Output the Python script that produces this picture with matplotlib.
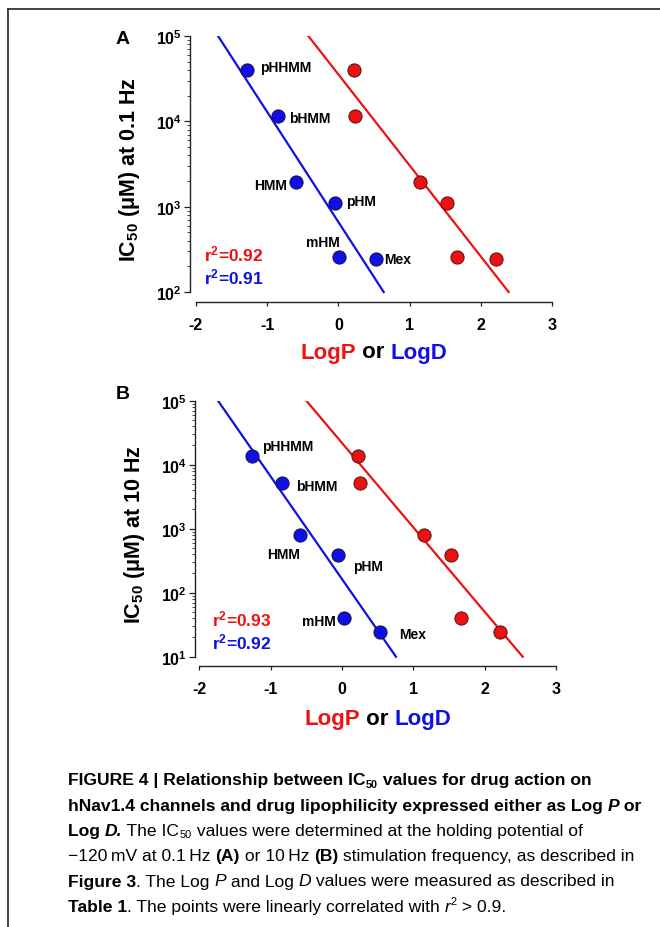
import numpy as np
import matplotlib
matplotlib.use('Agg')
import matplotlib.pyplot as plt
from matplotlib import font_manager
from matplotlib.lines import Line2D
from matplotlib.ticker import FuncFormatter, NullFormatter, FixedLocator

# ── data ──────────────────────────────────────────────────────────────────────
drugs = ['pHHMM', 'bHMM', 'HMM', 'pHM', 'mHM', 'Mex']

logd_a = [-1.284, -0.848, -0.591, -0.052, 0.013, 0.523]
logp_a = [0.224, 0.238, 1.141, 1.525, 1.666, 2.209]
ic50_a = [40100, 11600, 1970, 1090, 259, 245]       # uM at 0.1 Hz

logd_b = [-1.266, -0.846, -0.589, -0.051, 0.023, 0.537]
logp_b = [0.231, 0.248, 1.145, 1.528, 1.673, 2.215]
ic50_b = [13650, 5100, 787, 388, 40.6, 24.3]        # uM at 10 Hz

# regression lines (ends)
fit_a_logd = [-1.69, 0.636]
fit_a_logp = [-0.422, 2.391]
fit_a_ic50 = [1e5, 1e2]
fit_b_logd = [-1.738, 0.757]
fit_b_logp = [-0.50, 2.533]
fit_b_ic50 = [1e5, 1e1]

r2_a = ['0.92', '0.91']   # LogP, LogD
r2_b = ['0.93', '0.92']

RED = '#ee1111'
BLUE = '#1010e6'

plt.rcParams.update({
    'font.family': ['Liberation Sans', 'DejaVu Sans'],
    'mathtext.fontset': 'custom',
    'mathtext.rm': 'Liberation Sans',
    'mathtext.bf': 'Liberation Sans:bold',
    'mathtext.it': 'Liberation Sans:italic',
})


def font_ok(name):
    try:
        font_manager.findfont(name, fallback_to_default=False)
        return True
    except Exception:
        return False


CAP_FONT = 'Liberation Sans Narrow' if font_ok('Liberation Sans Narrow') else 'Liberation Sans'
CAP_SIZE = 13 if CAP_FONT == 'Liberation Sans Narrow' else 12.6

W, H = 660, 928
fig = plt.figure(figsize=(W / 100, H / 100), dpi=100)


def px_axes(left, right, top, bottom):
    return fig.add_axes([left / W, 1 - bottom / H, (right - left) / W, (bottom - top) / H])


def style_axes(ax, ylo, xlo):
    ax.set_yscale('log')
    ax.set_xlim(xlo, 3.0)
    for s in ['top', 'right']:
        ax.spines[s].set_visible(False)
    ax.spines['left'].set_bounds(ylo, 1e5)
    ax.spines['bottom'].set_bounds(-2, 3)
    for s in ['left', 'bottom']:
        ax.spines[s].set_linewidth(1.0)
        ax.spines[s].set_color('#222222')
    decades = np.arange(round(np.log10(ylo)), 6)
    ax.xaxis.set_major_locator(FixedLocator([-2, -1, 0, 1, 2, 3]))
    ax.xaxis.set_major_formatter(FuncFormatter(lambda v, p: '%d' % v))
    ax.yaxis.set_major_locator(FixedLocator(10.0 ** decades))
    ax.yaxis.set_minor_locator(FixedLocator([m * 10.0 ** d for d in decades[:-1] for m in range(2, 10)]))
    ax.yaxis.set_major_formatter(FuncFormatter(lambda v, p: r'$\mathbf{10^{%d}}$' % round(np.log10(v))))
    ax.yaxis.set_minor_formatter(NullFormatter())
    ax.tick_params(axis='y', which='major', length=4, width=0.9, labelsize=11.5, pad=2, color='#222222')
    ax.tick_params(axis='y', which='minor', length=2.2, width=0.7, color='#444444')
    ax.tick_params(axis='x', which='major', length=3, width=0.9, labelsize=11.5, pad=8, color='#222222')
    for lab in ax.get_xticklabels():
        lab.set_fontweight('bold')


def draw_panel(ax, logd, logp, ic50, fd, fp, fy, labels, r2, r2pos, ylab):
    ax.plot(fd, fy, color=BLUE, lw=1.6, zorder=2)
    ax.plot(fp, fy, color=RED, lw=1.6, zorder=2)
    ax.plot(logd, ic50, 'o', ms=9.5, mfc=BLUE, mec='#101040', mew=0.7, zorder=3)
    ax.plot(logp, ic50, 'o', ms=9.5, mfc=RED, mec='#501010', mew=0.7, zorder=3)
    for name, (lx, ly, ha) in zip(drugs, labels):
        ax.text(lx, 10 ** ly, name, ha=ha, va='center', fontsize=10, fontweight='bold')
    ax.text(r2pos[0], 10 ** r2pos[1], r'r$^{\mathbf{2}}$=' + r2[0], color=RED,
            fontsize=12.5, fontweight='bold', va='center', ha='left')
    ax.text(r2pos[0], 10 ** r2pos[2], r'r$^{\mathbf{2}}$=' + r2[1], color=BLUE,
            fontsize=12.5, fontweight='bold', va='center', ha='left')
    ax.set_ylabel(ylab, fontsize=15.5, fontweight='bold', labelpad=10)


# ── panel A ───────────────────────────────────────────────────────────────────
axA = px_axes(190, 552, 37, 303)
axA.set_ylim(10 ** 1.883, 1e5)
style_axes(axA, 1e2, -2.084)
labels_a = [(-1.106, 4.638, 'left'), (-0.699, 4.042, 'left'), (-0.722, 3.255, 'right'),
            (0.107, 3.068, 'left'), (0.013, 2.585, 'right'), (0.636, 2.382, 'left')]
draw_panel(axA, logd_a, logp_a, ic50_a, fit_a_logd, fit_a_logp, fit_a_ic50,
           labels_a, r2_a, (-1.883, 2.448, 2.184), r'$\mathbf{IC_{50}}$ (μM) at 0.1 Hz')

# ── panel B ───────────────────────────────────────────────────────────────────
axB = px_axes(195, 556, 401.7, 667)
axB.set_ylim(10 ** 0.855, 1e5)
style_axes(axB, 1e1, -2.06)
labels_b = [(-1.126, 4.286, 'left'), (-0.645, 3.667, 'left'), (-0.589, 2.604, 'right'),
            (0.150, 2.417, 'left'), (-0.089, 1.557, 'right'), (0.799, 1.349, 'left')]
draw_panel(axB, logd_b, logp_b, ic50_b, fit_b_logd, fit_b_logp, fit_b_ic50,
           labels_b, r2_b, (-1.822, 1.599, 1.240), r'$\mathbf{IC_{50}}$ (μM) at 10 Hz')

renderer = fig.canvas.get_renderer()


def run_text(x_px, y_px, runs, size, family, va='center'):
    """Draw a row of differently styled text pieces, left to right (pixel coords)."""
    x = x_px
    for txt, kw in runs:
        kw = dict(kw)
        fs = size
        dy = 0
        if kw.pop('sub', False):
            fs = size * 0.62
            dy = -size * 0.28
        if kw.pop('sup', False):
            fs = size * 0.62
            dy = size * 0.42
        col = kw.pop('color', 'black')
        t = fig.text(x / W, 1 - y_px / H + dy / H, txt, fontsize=fs, family=family,
                     va=va, ha='left', color=col, **kw)
        x += t.get_window_extent(renderer).width


# x-axis titles
for cy, cx in ((353, 374), (720, 378)):
    runs = [('LogP', dict(fontweight='bold', color=RED)),
            (' or ', dict(fontweight='bold')),
            ('LogD', dict(fontweight='bold', color=BLUE))]
    tmp = fig.text(0, 0, 'LogP or LogD', fontsize=16, fontweight='bold')
    w = tmp.get_window_extent(renderer).width
    tmp.remove()
    run_text(cx - w / 2, cy, runs, 16, ['Liberation Sans'])

# panel letters
fig.text(116 / W, 1 - 40 / H, 'A', fontsize=14, fontweight='bold', va='center')
fig.text(116 / W, 1 - 395 / H, 'B', fontsize=14, fontweight='bold', va='center')

# caption
B_ = dict(fontweight='bold')
BI = dict(fontweight='bold', style='italic')
N_ = dict()
I_ = dict(style='italic')
caption = [
    [('FIGURE 4 | Relationship between IC', B_), ('50', dict(fontweight='bold', sub=True)),
     (' values for drug action on', B_)],
    [('hNav1.4 channels and drug lipophilicity expressed either as Log ', B_), ('P', BI), (' or', B_)],
    [('Log ', B_), ('D.', BI), (' The IC', N_), ('50', dict(sub=True)),
     (' values were determined at the holding potential of', N_)],
    [('\u2212120\u2009mV at 0.1\u2009Hz ', N_), ('(A)', B_), (' or 10\u2009Hz ', N_), ('(B)', B_),
     (' stimulation frequency, as described in', N_)],
    [('Figure 3', B_), ('. The Log ', N_), ('P', I_), (' and Log ', N_), ('D', I_),
     (' values were measured as described in', N_)],
    [('Table 1', B_), ('. The points were linearly correlated with ', N_), ('r', I_),
     ('2', dict(sup=True)), (' > 0.9.', N_)],
]
cap_y = [781, 806.5, 831.5, 857, 882, 907.5]
for runs, cy in zip(caption, cap_y):
    run_text(68, cy, runs, CAP_SIZE, [CAP_FONT, 'DejaVu Sans'])

# frame (left and top border)
fig.add_artist(Line2D([8 / W, 8 / W], [0, 1 - 10 / H], color='#222222', lw=1.2))
fig.add_artist(Line2D([8 / W, 1], [1 - 10 / H, 1 - 10 / H], color='#222222', lw=1.2))

fig.savefig('out.png', dpi=100, facecolor='white')
